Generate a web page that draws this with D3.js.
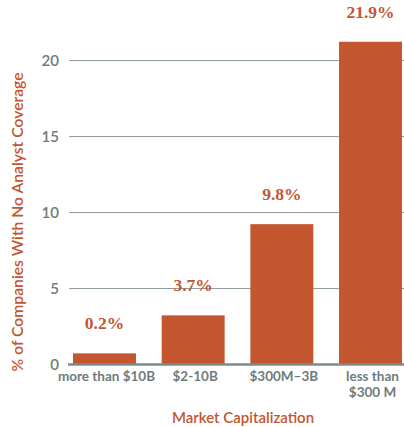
<!DOCTYPE html>
<html>
<head>
<meta charset="utf-8">
<script src="https://cdn.jsdelivr.net/npm/d3@7"></script>
<style>
  html, body { margin: 0; padding: 0; background: #fff; }
  svg { display: block; }
</style>
</head>
<body>
<svg id="chart" width="404" height="427"></svg>
<script>
// ---- data ----
const categories = ["more than $10B", "$2-10B", "$300M\u20133B", "less than\n$300 M"];
const values = [0.7, 3.2, 9.2, 21.2];          // bar heights as drawn
const valueLabels = ["0.2%", "3.7%", "9.8%", "21.9%"];
const yTicks = [0, 5, 10, 15, 20];

const orange = "#c3562f";
const gray = "#6e7b7d";
const gridColor = "#8f9c9e";

const svg = d3.select("#chart");
const x = d3.scaleBand().domain(categories).range([73, 402]).paddingInner(0.29).paddingOuter(0);
const y = d3.scaleLinear().domain([0, 20]).range([364, 60]);

// grid lines
const yAxis = d3.axisLeft(y).tickValues(yTicks).tickSize(0).tickPadding(0);
svg.append("g").selectAll("line.grid").data(yTicks.filter(d => d !== 0)).enter().append("line")
  .attr("class", "grid")
  .attr("x1", 69).attr("x2", 404)
  .attr("y1", d => y(d) + 0.5).attr("y2", d => y(d) + 0.5)
  .attr("stroke", gridColor).attr("stroke-width", 1.2);

// tick labels
const gy = svg.append("g").attr("transform", "translate(59,0)").call(yAxis);
gy.select(".domain").remove();
gy.selectAll("text")
  .attr("fill", gray)
  .attr("font-family", "Lato, sans-serif")
  .attr("font-size", "15px")
  .attr("font-weight", "600")
  .attr("dy", "0.36em");

// bars
svg.append("g").selectAll("rect").data(categories).enter().append("rect")
  .attr("x", d => x(d))
  .attr("width", x.bandwidth())
  .attr("y", (d, i) => y(values[i]))
  .attr("height", (d, i) => y(0) - y(values[i]))
  .attr("fill", orange);

// baseline
svg.append("line")
  .attr("x1", 68).attr("x2", 404)
  .attr("y1", y(0) + 0.5).attr("y2", y(0) + 0.5)
  .attr("stroke", "#7d8b8d").attr("stroke-width", 2.4);

// value labels
svg.append("g").selectAll("text").data(categories).enter().append("text")
  .attr("x", d => x(d) + x.bandwidth() / 2)
  .attr("y", (d, i) => y(values[i]) - 24)
  .attr("text-anchor", "middle")
  .attr("fill", orange)
  .attr("font-family", "'Liberation Serif', serif")
  .attr("font-weight", "bold")
  .attr("font-size", "17.5px")
  .text((d, i) => valueLabels[i]);

// x category labels
const xl = svg.append("g").selectAll("text").data(categories).enter().append("text")
  .attr("y", 381)
  .attr("text-anchor", "middle")
  .attr("fill", gray)
  .attr("font-family", "Lato, sans-serif")
  .attr("font-weight", "bold")
  .attr("font-size", "13.5px");
xl.each(function(d) {
  const lines = d.split("\n");
  const t = d3.select(this);
  lines.forEach((ln, j) => {
    t.append("tspan").attr("x", x(d) + x.bandwidth() / 2 + 2).attr("dy", j === 0 ? 0 : 15.5).text(ln);
  });
});

// axis titles
svg.append("text")
  .attr("x", 243).attr("y", 423)
  .attr("text-anchor", "middle")
  .attr("fill", orange)
  .attr("font-family", "Lato, sans-serif")
  .attr("font-weight", "600")
  .attr("font-size", "15px")
  .text("Market Capitalization");

svg.append("text")
  .attr("transform", "translate(23,222) rotate(-90)")
  .attr("text-anchor", "middle")
  .attr("fill", orange)
  .attr("font-family", "Lato, sans-serif")
  .attr("font-weight", "600")
  .attr("font-size", "15.7px")
  .text("% of Companies With No Analyst Coverage");
</script>
</body>
</html>
